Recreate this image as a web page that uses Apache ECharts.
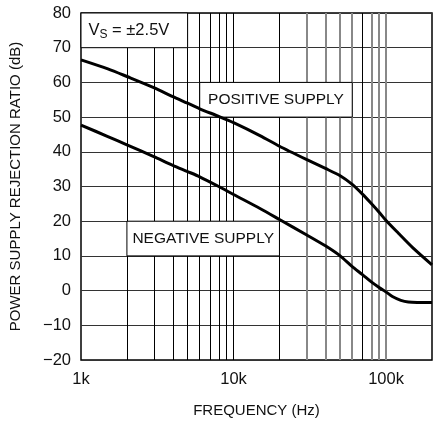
<!DOCTYPE html>
<html><head><meta charset="utf-8">
<script src="https://cdn.jsdelivr.net/npm/echarts@6/dist/echarts.min.js"></script>
<style>html,body{margin:0;background:#fff}#c{width:442px;height:423px}</style>
</head><body><div id="c"></div>
<script>
// ---- data ----
const posFreq = [1000,1500,2000,3000,4000,5000,6000,8000,10000,15000,20000,30000,40000,50000,60000,70000,80000,90000,100000,120000,150000,200000];
const posDb   = [66.5,63.9,61.7,58.5,55.9,54.0,52.4,50.2,48.4,44.6,41.6,37.8,35.2,33.1,30.6,27.8,25.1,22.6,20.2,16.6,12.3,7.4];
const negFreq = [1000,1500,2000,3000,4000,5000,6000,8000,10000,15000,20000,30000,40000,50000,60000,70000,80000,90000,100000,110000,125000,140000,160000,200000];
const negDb   = [47.7,44.4,42.0,38.6,36.1,34.3,32.8,30.0,27.7,23.6,20.5,16.1,12.9,10.0,6.9,4.6,2.5,0.9,-0.4,-1.7,-2.8,-3.3,-3.4,-3.4];
const xTickLabels = ['1k','10k','100k'];
const gridFreqs = [2000,3000,4000,5000,6000,7000,8000,9000,10000,20000,30000,40000,50000,60000,70000,80000,90000,100000];
const fadedGrid = [30000,40000,50000,60000,80000,90000,100000];
const boxes = [
  {x:[1000,5000],   y:[80,70], text:'{a|V}{s|S}{a| = ±2.5V}', left:true},
  {x:[6000,60000],  y:[60,50], text:'POSITIVE SUPPLY'},
  {x:[2000,20000],  y:[20,10], text:'NEGATIVE SUPPLY'}
];
const yName = 'POWER SUPPLY REJECTION RATIO (dB)';
const xName = 'FREQUENCY (Hz)';

const F = '"Liberation Sans", Arial, sans-serif';
const chart = echarts.init(document.getElementById('c'), null, {renderer:'canvas'});
const zip = (a,b) => a.map((v,i)=>[v,b[i]]);

chart.setOption({
  animation:false,
  backgroundColor:'#fff',
  grid:{left:81,right:10,top:13,bottom:58,show:true,borderColor:'#000',borderWidth:1.5,backgroundColor:'transparent'},
  xAxis:{
    type:'log', logBase:10, min:1000, max:200000,
    name:xName, nameLocation:'middle', nameGap:43,
    nameTextStyle:{fontFamily:F,fontSize:15,color:'#111'},
    axisLine:{show:false}, axisTick:{show:false}, splitLine:{show:false},
    axisLabel:{margin:11,fontFamily:F,fontSize:16.5,color:'#111',
      formatter:v=>{const e=Math.log10(v);const r=Math.round(e);return (Math.abs(e-r)<1e-6&&r>=3&&r<=5)?xTickLabels[r-3]:'';}}
  },
  yAxis:{
    type:'value', min:-20, max:80, interval:10,
    name:yName, nameLocation:'middle', nameGap:58,
    nameTextStyle:{fontFamily:F,fontSize:15,color:'#111'},
    axisLine:{show:false}, axisTick:{show:false},
    splitLine:{lineStyle:{color:'#333',width:1.2}},
    axisLabel:{margin:10,fontFamily:F,fontSize:16.5,color:'#111',formatter:v=>String(v).replace('-','−')}
  },
  series:[
    {
      type:'line', name:'POSITIVE', data:zip(posFreq,posDb), smooth:0.25, symbol:'none',
      lineStyle:{color:'#000',width:3}, z:3,
      markLine:{
        silent:true, z:1, symbol:['none','none'], label:{show:false},
        data:gridFreqs.map(f=>({xAxis:f,lineStyle:fadedGrid.includes(f)?{color:'#888',width:2,type:'solid'}:{color:'#000',width:1,type:'solid'}}))
      },
      markArea:{
        silent:true, z:2,
        itemStyle:{color:'#fff',borderColor:'#000',borderWidth:1},
        label:{show:true,position:'inside',fontFamily:F,fontSize:15.5,color:'#111',
          rich:{a:{fontFamily:F,fontSize:16.5,color:'#111'},s:{fontFamily:F,fontSize:12,color:'#111',padding:[9,0,0,0]}}},
        data:boxes.map(b=>[
          {xAxis:b.x[0],yAxis:b.y[0],label:Object.assign({formatter:b.text},b.left?{position:'insideLeft',distance:8}:{})},
          {xAxis:b.x[1],yAxis:b.y[1]}
        ])
      }
    },
    {
      type:'line', name:'NEGATIVE', data:zip(negFreq,negDb), smooth:0.25, symbol:'none',
      lineStyle:{color:'#000',width:3}, z:3
    }
  ]
});
</script></body></html>
